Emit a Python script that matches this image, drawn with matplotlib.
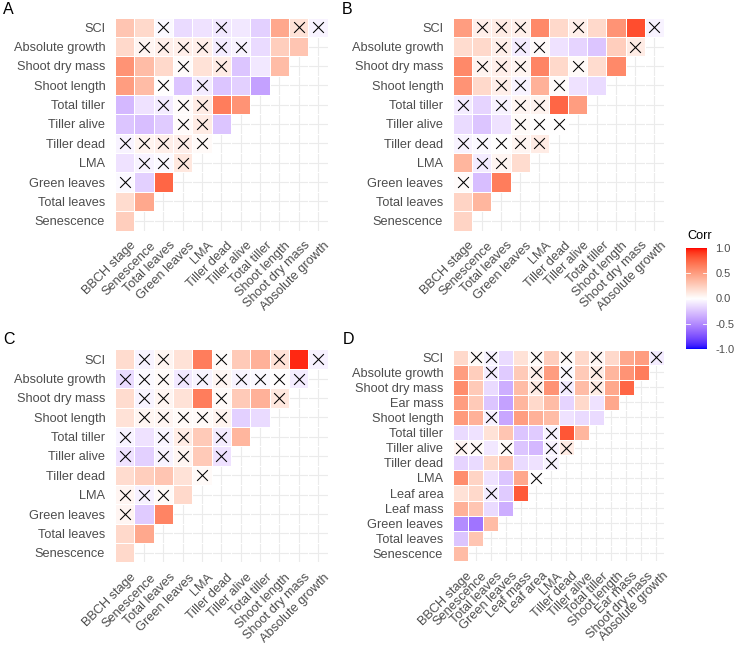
import numpy as np
import matplotlib
matplotlib.use("Agg")
import matplotlib.pyplot as plt
from matplotlib.colors import ListedColormap
from matplotlib.transforms import ScaledTranslation

plt.rcParams['font.family'] = ['Liberation Sans', 'DejaVu Sans']

# variable order (columns left->right, rows bottom->top)
vars_abc = ["BBCH stage", "Senescence", "Total leaves", "Green leaves", "LMA",
            "Tiller dead", "Tiller alive", "Total tiller", "Shoot length",
            "Shoot dry mass", "Absolute growth", "SCI"]
vars_d = ["BBCH stage", "Senescence", "Total leaves", "Green leaves", "Leaf mass",
          "Leaf area", "LMA", "Tiller dead", "Tiller alive", "Total tiller",
          "Shoot length", "Ear mass", "Shoot dry mass", "Absolute growth", "SCI"]

# correlations, rows from top (SCI) to bottom (Senescence)
corr_a = [
    [0.30, 0.20, -0.03, -0.15, -0.12, -0.10, -0.10, -0.20, 0.45, 0.15, -0.05],
    [0.20, 0.05, 0.08, 0.08, 0.08, -0.08, -0.05, -0.15, 0.25, 0.30],
    [0.55, 0.35, 0.20, 0.02, 0.15, 0.10, -0.25, -0.10, 0.35],
    [0.50, 0.35, 0.00, -0.25, -0.08, -0.25, -0.20, -0.40],
    [-0.30, -0.12, -0.08, 0.02, 0.10, 0.65, 0.55],
    [-0.25, -0.28, -0.22, 0.02, 0.10, -0.25],
    [-0.05, 0.06, 0.08, 0.08, 0.03],
    [-0.12, -0.05, -0.03, 0.12],
    [-0.03, -0.20, 0.75],
    [0.18, 0.45],
    [0.25],
]
insig_a = [
    [0, 0, 1, 0, 0, 1, 0, 0, 0, 1, 1],
    [0, 1, 1, 1, 1, 1, 1, 0, 0, 0],
    [0, 0, 0, 1, 0, 1, 0, 0, 0],
    [0, 0, 1, 0, 1, 0, 0, 0],
    [0, 0, 1, 1, 1, 0, 0],
    [0, 0, 0, 1, 1, 0],
    [1, 1, 1, 1, 1],
    [0, 1, 1, 1],
    [1, 0, 0],
    [0, 0],
    [0],
]

corr_b = [
    [0.50, 0.08, 0.10, 0.08, 0.60, 0.20, 0.08, 0.20, 0.55, 0.85, -0.05],
    [0.18, 0.20, 0.08, -0.08, 0.02, -0.12, -0.18, -0.25, 0.25, 0.10],
    [0.60, 0.06, 0.08, 0.05, 0.62, 0.20, 0.03, 0.18, 0.60],
    [0.55, 0.20, 0.08, -0.05, 0.40, 0.02, -0.12, -0.15],
    [-0.08, -0.18, -0.05, 0.05, 0.06, 0.75, 0.50],
    [-0.15, -0.25, -0.12, 0.03, 0.00, 0.00],
    [-0.05, -0.03, 0.00, 0.05, 0.10],
    [0.38, -0.08, 0.05, 0.18],
    [0.02, -0.28, 0.65],
    [0.22, 0.38],
    [0.22],
]
insig_b = [
    [0, 1, 1, 1, 0, 0, 1, 0, 0, 0, 1],
    [0, 0, 1, 1, 1, 0, 0, 0, 0, 1],
    [0, 1, 1, 1, 0, 0, 1, 0, 0],
    [0, 0, 1, 1, 0, 1, 0, 0],
    [1, 0, 1, 1, 1, 0, 0],
    [0, 0, 0, 1, 1, 1],
    [1, 1, 1, 1, 1],
    [0, 1, 1, 0],
    [1, 0, 0],
    [0, 0],
    [0],
]

corr_c = [
    [0.18, -0.05, 0.05, 0.15, 0.65, 0.02, 0.28, 0.40, 0.15, 0.95, -0.06],
    [-0.15, -0.03, 0.03, -0.10, -0.05, 0.05, -0.05, -0.03, 0.00, -0.08],
    [0.18, -0.05, 0.05, 0.15, 0.65, 0.03, 0.28, 0.40, 0.12],
    [0.15, 0.05, 0.05, 0.03, 0.03, 0.06, -0.20, -0.15],
    [-0.05, -0.12, -0.04, 0.10, 0.28, -0.08, 0.38],
    [-0.12, -0.20, -0.05, 0.05, 0.28, -0.12],
    [0.18, 0.25, 0.30, 0.15, 0.03],
    [0.05, -0.06, 0.03, 0.20],
    [0.05, -0.22, 0.62],
    [0.20, 0.45],
    [0.20],
]
insig_c = [
    [0, 1, 1, 0, 0, 1, 0, 0, 1, 0, 1],
    [1, 1, 1, 1, 1, 1, 1, 1, 1, 1],
    [0, 1, 1, 0, 0, 1, 0, 0, 1],
    [0, 1, 1, 1, 1, 1, 0, 0],
    [1, 0, 1, 1, 0, 1, 0],
    [1, 0, 1, 1, 0, 1],
    [0, 0, 0, 0, 1],
    [1, 1, 1, 0],
    [1, 0, 0],
    [0, 0],
    [0],
]

corr_d = [
    [0.20, 0.03, -0.05, -0.15, 0.15, 0.03, 0.25, 0.02, 0.20, 0.05, 0.20, 0.45, 0.50, -0.08],
    [0.50, 0.25, -0.08, -0.22, 0.28, 0.08, 0.50, -0.03, 0.28, 0.10, 0.38, 0.55, 0.65],
    [0.58, 0.28, -0.15, -0.35, 0.35, 0.10, 0.55, -0.08, 0.35, 0.10, 0.45, 0.75],
    [0.50, 0.28, -0.25, -0.40, 0.38, 0.20, 0.35, -0.18, 0.20, -0.12, 0.45],
    [0.52, 0.40, -0.06, -0.38, 0.50, 0.40, 0.35, -0.12, -0.15, -0.15],
    [-0.15, -0.12, 0.15, 0.30, -0.25, -0.22, -0.05, 0.82, 0.38],
    [0.05, 0.03, -0.10, 0.02, -0.25, -0.30, -0.05, 0.10],
    [-0.18, -0.15, 0.20, 0.30, -0.15, -0.12, -0.05],
    [0.58, 0.22, -0.12, -0.25, 0.45, 0.00],
    [0.15, 0.20, -0.08, -0.22, 0.80],
    [0.40, 0.30, -0.15, -0.35],
    [-0.50, -0.60, 0.35],
    [-0.25, 0.30],
    [0.35],
]
insig_d = [
    [0, 1, 1, 0, 0, 1, 0, 1, 0, 1, 0, 0, 0, 1],
    [0, 0, 1, 0, 0, 1, 0, 1, 0, 1, 0, 0, 0],
    [0, 0, 0, 0, 0, 1, 0, 1, 0, 1, 0, 0],
    [0, 0, 0, 0, 0, 0, 0, 0, 0, 0, 0],
    [0, 0, 1, 0, 0, 0, 0, 0, 0, 0],
    [0, 0, 0, 0, 0, 0, 1, 0, 0],
    [1, 1, 0, 1, 0, 0, 1, 1],
    [0, 0, 0, 0, 0, 0, 1],
    [0, 0, 0, 0, 0, 1],
    [0, 0, 1, 0, 0],
    [0, 0, 0, 0],
    [0, 0, 0],
    [0, 0],
    [0],
]


def to_lab(rgb):
    c = np.asarray(rgb, float)
    lin = np.where(c <= 0.04045, c / 12.92, ((c + 0.055) / 1.055) ** 2.4)
    m = np.array([[0.4124, 0.3576, 0.1805], [0.2126, 0.7152, 0.0722], [0.0193, 0.1192, 0.9505]])
    xyz = m @ lin / np.array([0.95047, 1.0, 1.08883])
    f = np.where(xyz > 0.008856, np.cbrt(xyz), 7.787 * xyz + 16 / 116)
    return np.array([116 * f[1] - 16, 500 * (f[0] - f[1]), 200 * (f[1] - f[2])])


def from_lab(lab):
    fy = (lab[0] + 16) / 116
    fx = fy + lab[1] / 500
    fz = fy - lab[2] / 200
    f = np.array([fx, fy, fz])
    xyz = np.where(f ** 3 > 0.008856, f ** 3, (f - 16 / 116) / 7.787) * np.array([0.95047, 1.0, 1.08883])
    minv = np.linalg.inv(np.array([[0.4124, 0.3576, 0.1805], [0.2126, 0.7152, 0.0722], [0.0193, 0.1192, 0.9505]]))
    lin = np.clip(minv @ xyz, 0, 1)
    c = np.where(lin <= 0.0031308, 12.92 * lin, 1.055 * lin ** (1 / 2.4) - 0.055)
    return np.clip(c, 0, 1)


# gradient2 blue - white - red, interpolated in Lab like ggplot
lab_b, lab_w, lab_r = to_lab([0, 0, 1]), to_lab([1, 1, 1]), to_lab([1, 0, 0])
cols = []
for v in np.linspace(-1, 1, 256):
    if v < 0:
        cols.append(from_lab(lab_w + (lab_b - lab_w) * (-v)))
    else:
        cols.append(from_lab(lab_w + (lab_r - lab_w) * v))
cmap = ListedColormap(cols)

W, H = 734, 654
fig = plt.figure(figsize=(W / 100, H / 100), dpi=100)
txtcol = "#4D4D4D"


def panel(rect, names, corr, insig, letter, lpos):
    x0, y0, w, h = rect
    ax = fig.add_axes([x0 / W, 1 - (y0 + h) / H, w / W, h / H])
    n = len(names) - 1
    mat = np.full((n, n), np.nan)
    for k, row in enumerate(corr):
        y = n - 1 - k
        for x, v in enumerate(row):
            mat[y, x] = v
    ax.set_axisbelow(True)
    ax.grid(True, color="#EBEBEB", linewidth=0.8)
    ax.pcolormesh(np.arange(n + 1) - 0.5, np.arange(n + 1) - 0.5, np.ma.masked_invalid(mat),
                  cmap=cmap, vmin=-1, vmax=1, edgecolors="white", linewidth=0.4)
    xs, ys = [], []
    for k, row in enumerate(insig):
        for x, flag in enumerate(row):
            if flag:
                xs.append(x)
                ys.append(n - 1 - k)
    ax.scatter(xs, ys, marker="x", s=60, color="black", linewidths=0.75, zorder=3)
    ax.set_xlim(-0.5, n - 0.5)
    ax.set_ylim(-0.5, n - 0.5)
    for s in ax.spines.values():
        s.set_visible(False)
    ax.set_xticks(range(n))
    ax.set_xticklabels(names[:-1], rotation=45, ha="right", va="top",
                       rotation_mode="anchor", fontsize=9.2, color=txtcol)
    ax.set_yticks(range(n))
    ax.set_yticklabels(names[1:], fontsize=9.2, color=txtcol)
    ax.tick_params(axis="both", length=0)
    ax.tick_params(axis="y", pad=7)
    ax.tick_params(axis="x", pad=0)
    off = ScaledTranslation(5.5 / 100, -9 / 100, fig.dpi_scale_trans)
    for lab in ax.get_xticklabels():
        lab.set_transform(lab.get_transform() + off)
    fig.text(lpos[0] / W, 1 - lpos[1] / H, letter, fontsize=11.5, ha="left", va="center")
    return ax


panel((115, 17.5, 212.5, 213), vars_abc, corr_a, insig_a, "A", (3, 10))
panel((453, 17.5, 211, 213), vars_abc, corr_b, insig_b, "B", (342, 10))
panel((115, 349.5, 212.5, 213), vars_abc, corr_c, insig_c, "C", (3, 340))
panel((453, 349.5, 211, 211.5), vars_d, corr_d, insig_d, "D", (343, 340))

# colour bar legend
cax = fig.add_axes([686 / W, 1 - 349 / H, 21 / W, 101 / H])
grad = np.linspace(-1, 1, 256).reshape(-1, 1)
cax.imshow(grad, aspect="auto", cmap=cmap, vmin=-1, vmax=1, origin="lower", extent=(0, 1, -1, 1))
cax.set_xticks([])
cax.set_yticks([-1, -0.5, 0, 0.5, 1])
cax.yaxis.tick_right()
cax.set_yticklabels(["-1.0", "-0.5", "0.0", "0.5", "1.0"], fontsize=8, color=txtcol)
cax.tick_params(axis="y", length=0, pad=6)
for v in [-0.5, 0, 0.5]:
    cax.plot([0, 0.2], [v, v], color="white", linewidth=0.6)
    cax.plot([0.8, 1], [v, v], color="white", linewidth=0.6)
cax.set_xlim(0, 1)
cax.set_ylim(-1, 1)
for s in cax.spines.values():
    s.set_visible(False)
fig.text(687 / W, 1 - 236 / H, "Corr", fontsize=9.2, ha="left", va="center")

fig.savefig("out.png", dpi=100)
